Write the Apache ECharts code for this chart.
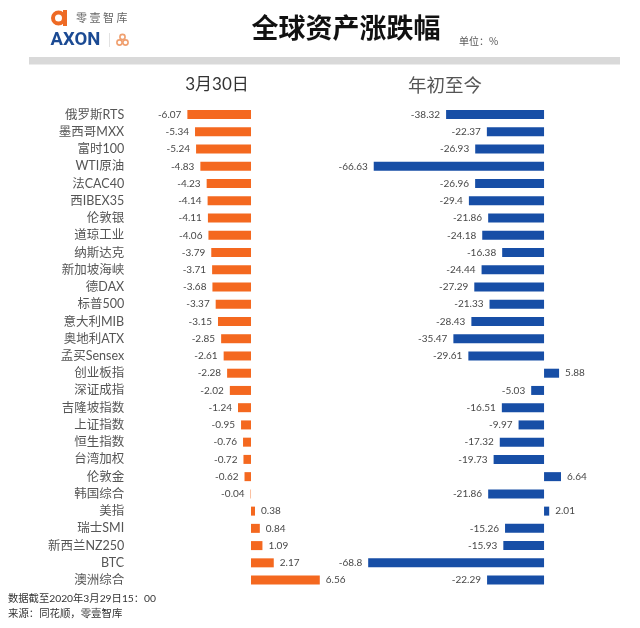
<!DOCTYPE html>
<html>
<head>
<meta charset="utf-8">
<style>
  html, body { margin: 0; padding: 0; background: #fff; }
  #chart { width: 640px; height: 628px; }
</style>
<script src="https://cdn.jsdelivr.net/npm/echarts@6/dist/echarts.min.js"></script>
</head>
<body>
<div id="chart"></div>
<script>
const categories = ['俄罗斯RTS', '墨西哥MXX', '富时100', 'WTI原油', '法CAC40', '西IBEX35', '伦敦银', '道琼工业', '纳斯达克', '新加坡海峡', '德DAX', '标普500', '意大利MIB', '奥地利ATX', '孟买Sensex', '创业板指', '深证成指', '吉隆坡指数', '上证指数', '恒生指数', '台湾加权', '伦敦金', '韩国综合', '美指', '瑞士SMI', '新西兰NZ250', 'BTC', '澳洲综合'];
const dayChange = [-6.07, -5.34, -5.24, -4.83, -4.23, -4.14, -4.11, -4.06, -3.79, -3.71, -3.68, -3.37, -3.15, -2.85, -2.61, -2.28, -2.02, -1.24, -0.95, -0.76, -0.72, -0.62, -0.04, 0.38, 0.84, 1.09, 2.17, 6.56];
const ytdChange = [-38.32, -22.37, -26.93, -66.63, -26.96, -29.4, -21.86, -24.18, -16.38, -24.44, -27.29, -21.33, -28.43, -35.47, -29.61, 5.88, -5.03, -16.51, -9.97, -17.32, -19.73, 6.64, -21.86, 2.01, -15.26, -15.93, -68.8, -22.29];

const cjk = '"Noto Sans CJK SC", sans-serif';
const latinCjk = 'Lato, "Noto Sans CJK SC", sans-serif';

const barLabel = {
  show: true,
  position: 'outside',
  distance: 6,
  fontSize: 10,
  fontFamily: latinCjk,
  color: '#484848'
};

const text = (x, y, str, fontSize, fill, extra) => ({
  type: 'text',
  x: x,
  y: y,
  style: Object.assign({ text: str, fontSize: fontSize, fill: fill, fontFamily: cjk, verticalAlign: 'middle' }, extra)
});

const ring = (cx, cy, r, stroke, lineWidth) => ({
  type: 'circle',
  shape: { cx: cx, cy: cy, r: r },
  style: { fill: 'none', stroke: stroke, lineWidth: lineWidth }
});

const chart = echarts.init(document.getElementById('chart'), null, { renderer: 'canvas' });

chart.setOption({
  animation: false,
  backgroundColor: '#fff',
  grid: [
    { left: 125.2, width: 199.2, top: 106, height: 482.7 },
    { left: 360, width: 204.5, top: 106, height: 482.7 }
  ],
  xAxis: [
    { gridIndex: 0, type: 'value', min: -12, max: 7, show: false },
    { gridIndex: 1, type: 'value', min: -72, max: 8, show: false }
  ],
  yAxis: [
    {
      gridIndex: 0,
      type: 'category',
      inverse: true,
      position: 'left',
      data: categories,
      axisLine: { show: false },
      axisTick: { show: false },
      axisLabel: { interval: 0, margin: 1, fontSize: 12.5, color: '#555', fontFamily: latinCjk }
    },
    {
      gridIndex: 1,
      type: 'category',
      inverse: true,
      data: categories,
      show: false
    }
  ],
  series: [
    {
      type: 'bar',
      xAxisIndex: 0,
      yAxisIndex: 0,
      data: dayChange,
      barWidth: 9,
      itemStyle: { color: '#f4681f' },
      label: barLabel
    },
    {
      type: 'bar',
      xAxisIndex: 1,
      yAxisIndex: 1,
      data: ytdChange,
      barWidth: 9,
      itemStyle: { color: '#174ea6' },
      label: barLabel
    }
  ],
  graphic: [
    // header band and logo
    { type: 'rect', shape: { x: 29, y: 57, width: 591, height: 7.5 }, style: { fill: '#d9d9d9' } },
    ring(58.5, 18, 5.5, '#ee6a24', 4),
    { type: 'rect', shape: { x: 63, y: 10, width: 4, height: 16 }, style: { fill: '#ee6a24' } },
    text(76, 18, '零 壹 智 库', 11, '#666'),
    text(50.5, 40, 'AXON', 18.5, '#1b4a93', { fontFamily: 'Roboto, sans-serif', fontWeight: 'bold' }),
    { type: 'rect', shape: { x: 109, y: 33, width: 1, height: 14 }, style: { fill: '#e2e2e2' } },
    ring(122.5, 37, 2.6, '#f0a070', 1.6),
    ring(119.5, 42.5, 2.6, '#f0a070', 1.6),
    ring(125.5, 42.5, 2.6, '#f0a070', 1.6),
    // titles
    text(346, 27.5, '全球资产涨跌幅', 27, '#111', { align: 'center', fontWeight: 'bold' }),
    text(459, 41, '单位：%', 10, '#555'),
    text(217, 85, '3月30日', 17, '#333', { align: 'center', fontFamily: latinCjk }),
    text(445, 85, '年初至今', 18.5, '#555', { align: 'center' }),
    // footer
    text(8, 599, '数据截至2020年3月29日15：00', 10.3, '#333', { fontFamily: latinCjk }),
    text(8, 613, '来源：同花顺，零壹智库', 10.4, '#333')
  ]
});
</script>
</body>
</html>
